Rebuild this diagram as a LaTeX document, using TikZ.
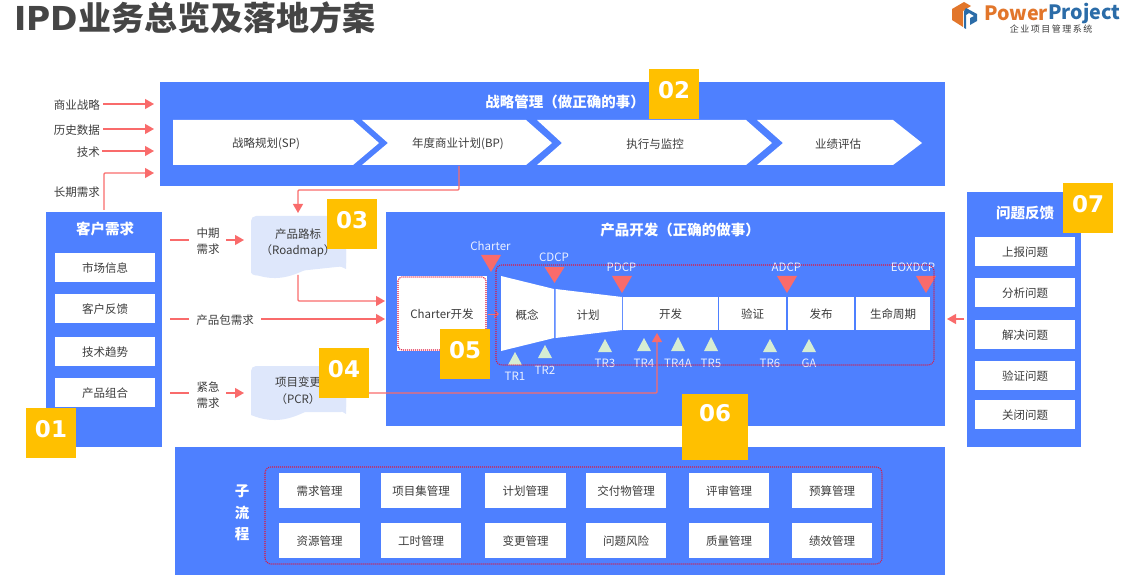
\documentclass[tikz,border=0pt]{standalone}
\usepackage{fontspec}
\setmainfont{Noto Sans CJK SC}
\newfontfamily\numfont{DejaVu Sans}
\usetikzlibrary{arrows.meta}
\definecolor{bluebox}{HTML}{4E80FF}
\definecolor{badge}{HTML}{FFC000}
\definecolor{redline}{HTML}{F96B6B}
\definecolor{docfill}{HTML}{DEE7FB}
\definecolor{greentri}{HTML}{D6EDD3}
\definecolor{txt}{HTML}{3C3C3C}
\definecolor{titletxt}{HTML}{454545}
\definecolor{dotred}{HTML}{E0153C}
\definecolor{logoor}{HTML}{E2762B}
\definecolor{logobl}{HTML}{2B6CA8}
\tikzset{
 panel/.style={fill=bluebox,draw=none,inner sep=0},
 whitebox/.style={fill=white,draw=none,inner sep=0,text=txt,font=\fontsize{11.5}{14}\selectfont,minimum width=#1,text height=11.5pt,text depth=1pt},
 lab/.style={inner sep=0,text=txt,font=\fontsize{11.5}{16.5}\selectfont,align=center,yshift=-0.7pt},
 onblue/.style={inner sep=0,text=white!88!bluebox,font=\fontsize{11.5}{14}\selectfont},
 head/.style={inner sep=0,text=white,font=\fontsize{14.5}{18}\selectfont\bfseries,align=center},
 numbadge/.style={fill=badge,inner sep=0,text=white,font=\fontsize{23}{26}\numfont\bfseries},
 conn/.style={draw=redline,line width=1.3pt,-{Triangle[length=9pt,width=10pt]}},
 plainconn/.style={draw=redline,line width=1.3pt},
 dotbox/.style={draw=dotred,dash pattern=on 1pt off 1pt,line width=1.1pt,rounded corners=6pt},
 redtri/.style={fill=redline},
 greentriangle/.style={fill=greentri},
 chev/.style={fill=white},
}
\newcommand{\bx}[6]{\node[#1,minimum width=#4pt-#3pt,minimum height=#6pt-#5pt,anchor=center] (#2) at ({(#3+#4)/2},{(#5+#6)/2}) {};}
\newcommand{\numb}[1]{\raisebox{8.5pt}{#1}}
\begin{document}
\begin{tikzpicture}[x=1pt,y=-1pt]
\useasboundingbox (0,0) rectangle (1125,588);

% title
\node[anchor=west,inner sep=0,text=titletxt,font=\fontsize{33}{36}\selectfont\bfseries] (title) at (14,18) {{\numfont\bfseries IPD}业务总览及落地方案};

% logo
\fill[logoor] (964,2) -- (971,6) -- (963,11) -- (963,27) -- (952,20) -- (952,9) -- cycle;
\fill[logobl] (966,8) -- (977,14) -- (977,21) -- (970,25) -- (970,18) -- (974,16) -- (969,13) -- (966,15) -- (966,29) -- (964,28) -- (964,11) -- cycle;
\node[anchor=west,inner sep=0,text=logoor,font=\fontsize{19.7}{22}\selectfont\bfseries] (lgA) at (984,13) {Power};
\node[anchor=west,inner sep=0,text=logobl,font=\fontsize{19.7}{22}\selectfont\bfseries] (lgB) at (lgA.east) {Project};
\node[inner sep=0,text=txt,font=\fontsize{9}{10}\selectfont] (lgC) at (1051,29) {企\,业\,项\,目\,管\,理\,系\,统};

% panels
\bx{panel}{strategy}{160}{945}{82}{186}
\bx{panel}{customer}{46}{162}{212}{447}
\bx{panel}{develop}{386}{945}{212}{426}
\bx{panel}{feedback}{967}{1081}{192}{447}
\bx{panel}{subproc}{175}{945}{447}{575}

\node[head] (hstrategy) at (565,102) {战略管理（做正确的事）};
\node[head] (hcustomer) at (105,229) {客户需求};
\node[head] (hdevelop) at (680,230) {产品开发（正确的做事）};
\node[head] (hfeedback) at (1025,213) {问题反馈};
\node[head,font=\fontsize{14.5}{21.5}\selectfont\bfseries] (hsub) at (242,513) {子\\流\\程};

% strategy chevrons
\fill[chev] (173,120) -- (353,120) -- (379,143) -- (353,165) -- (173,165) -- cycle;
\fill[chev] (362,120) -- (526,120) -- (552,143) -- (526,165) -- (362,165) -- (388,143) -- cycle;
\fill[chev] (537,120) -- (746,120) -- (772,143) -- (746,165) -- (537,165) -- (562,143) -- cycle;
\fill[chev] (757,120) -- (893,120) -- (922,143) -- (893,165) -- (757,165) -- (783,143) -- cycle;
\node[lab] (sp) at (266,143) {战略规划(SP)};
\node[lab] (bp) at (458,143) {年度商业计划(BP)};
\node[lab] (exec) at (655,143) {执行与监控};
\node[lab] (eval) at (838,143) {业绩评估};

% left inputs
\node[lab,anchor=east] (in1) at (100,104) {商业战略};
\node[lab,anchor=east] (in2) at (100,129) {历史数据};
\node[lab,anchor=east] (in3) at (100,151) {技术};
\node[lab,anchor=east] (in4) at (100,191) {长期需求};
\coordinate (o1) at (103,104);
\coordinate (o2) at (103,129);
\coordinate (o3) at (102,151);
\coordinate (t1) at (154,104);
\coordinate (t2) at (154,129);
\coordinate (t3) at (154,151);
\coordinate (t4) at (154,173);
\coordinate (c4) at (104,210);
\draw[conn] (o1) -- (t1);
\draw[conn] (o2) -- (t2);
\draw[conn] (o3) -- (t3);
\draw[conn,rounded corners=1pt] (c4) |- (t4);

% customer items
\node[whitebox=100pt,minimum height=29pt] (m1) at (105,267.5) {市场信息};
\node[whitebox=100pt,minimum height=29pt] (m2) at (105,308.5) {客户反馈};
\node[whitebox=100pt,minimum height=29pt] (m3) at (105,351.5) {技术趋势};
\node[whitebox=100pt,minimum height=29pt] (m4) at (105,392.5) {产品组合};

% feedback items
\node[whitebox=100pt,minimum height=29pt] (f1) at (1025,251.5) {上报问题};
\node[whitebox=100pt,minimum height=29pt] (f2) at (1025,292.5) {分析问题};
\node[whitebox=100pt,minimum height=29pt] (f3) at (1025,334.5) {解决问题};
\node[whitebox=100pt,minimum height=29pt] (f4) at (1025,375.5) {验证问题};
\node[whitebox=100pt,minimum height=29pt] (f5) at (1025,414.5) {关闭问题};

% sub process
\foreach \nm/\cx/\cy/\tx in {
 s1/319.5/490.5/需求管理,s2/421/490.5/项目集管理,s3/525.5/490.5/计划管理,s4/626/490.5/交付物管理,s5/729/490.5/评审管理,s6/832/490.5/预算管理,
 s7/319.5/540.5/资源管理,s8/421/540.5/工时管理,s9/525.5/540.5/变更管理,s10/626/540.5/问题风险,s11/729/540.5/质量管理,s12/832/540.5/绩效管理}{
 \node[whitebox=80.5pt,minimum height=35pt] (\nm) at (\cx,\cy) {\tx};
}
\draw[dotbox] (265,467) rectangle (882,564);

% documents
\fill[docfill,rounded corners=5pt] (251,276) -- (251,216) -- (346,216) -- (346,266) -- (346,266) -- cycle;
\fill[docfill] (251,265) -- (251,273) .. controls (275,283) and (292,276) .. (305,270) .. controls (320,263) and (335,263) .. (346,269) -- (346,250) -- (251,250) -- cycle;
\node[lab] (roadmap) at (298,242.5) {产品路标\\（Roadmap）};
\fill[docfill,rounded corners=5pt] (251,412) -- (251,366) -- (346,366) -- (346,412) -- cycle;
\fill[docfill] (251,405) -- (251,415) .. controls (275,425) and (292,418) .. (305,412) .. controls (320,406) and (335,406) .. (346,414) -- (346,395) -- (251,395) -- cycle;
\node[lab] (pcr) at (298,390) {项目变更\\（PCR）};

% middle labels
\coordinate (a1) at (170,240);
\coordinate (a2) at (170,319);
\coordinate (a3) at (170,393);
\coordinate (a1e) at (189,240);
\coordinate (a2e) at (189,319);
\coordinate (a3e) at (189,393);
\coordinate (e1s) at (226,240);
\coordinate (e2s) at (261,319);
\coordinate (e3s) at (226,393);
\node[lab] (need1) at (208,240.5) {中期\\需求};
\node[lab] (need2) at (225,319.5) {产品包需求};
\node[lab] (need3) at (208,394.5) {紧急\\需求};
\coordinate (e1) at (244,240);
\coordinate (e3) at (244,393);
\coordinate (dev2) at (385,319);
\draw[plainconn] (a1) -- (a1e);
\draw[plainconn] (a2) -- (a2e);
\draw[plainconn] (a3) -- (a3e);
\draw[conn] (e1s) -- (e1);
\draw[conn] (e3s) -- (e3);
\draw[conn] (e2s) -- (dev2);

% connectors around roadmap
\coordinate (bpout) at (459,166);
\coordinate (bend) at (459,190);
\coordinate (rmtop) at (298,213);
\draw[conn,rounded corners=1pt] (bpout) -- (bend) -| (rmtop);
\coordinate (rmout) at (298,275);
\coordinate (dev1) at (385,301);
\draw[conn,rounded corners=1pt] (rmout) |- (dev1);

% charter
\node[whitebox=90pt,minimum height=75pt] (charter) at (442,313.5) {Charter开发};
\draw[draw=dotred,dash pattern=on 1pt off 1pt,line width=1.1pt,rounded corners=4pt] (398,277) rectangle (486,350);

% funnel
\fill[white] (501,276) -- (554,289) -- (554,338) -- (501,351) -- cycle;
\fill[white] (555.5,289) -- (622,297) -- (622,330) -- (555.5,338) -- cycle;
\node[lab] (p1) at (527,314) {概念};
\node[lab] (p2) at (588,314) {计划};
\node[whitebox=95pt,minimum height=33pt] (p3) at (670.5,313.5) {开发};
\node[whitebox=67pt,minimum height=33pt] (p4) at (752.5,313.5) {验证};
\node[whitebox=66pt,minimum height=33pt] (p5) at (821,313.5) {发布};
\node[whitebox=74pt,minimum height=33pt] (p6) at (893,313.5) {生命周期};

% charter to funnel
\coordinate (chout) at (488,314);
\coordinate (funin) at (499,314);
\draw[draw=redline,line width=1pt,-{Straight Barb[length=4pt,width=7pt]}] (chout) -- (funin);

% decision points
\foreach \nm/\x/\yt/\yb/\t/\ly in {
 dA/491/255/272/Charter/246, dB/554.5/267/283/CDCP/257, dC/622/276/293/PDCP/267, dD/787/276/293/ADCP/267}{
 \fill[redtri] (\x-10,\yt) -- (\x+10,\yt) -- (\x,\yb) -- cycle;
 \node[onblue] (\nm) at (\x-0.5,\ly) {\t};
}
\fill[redtri] (916,276) -- (936,276) -- (926,293) -- cycle;
\node[onblue] (dE) at (913,267) {EOXDCP};

% technical reviews
\foreach \nm/\x/\yt/\yb/\t/\ly in {
 r1/515/352/365/TR1/376, r2/545/345/358/TR2/370, r3/605/339/352/TR3/363, r4/644/338/351/TR4/363,
 r5/678/337/351/TR4A/363, r6/711/337/351/TR5/363, r7/770/339/352/TR6/363, r8/809/339/352/GA/363}{
 \fill[greentriangle] (\x-7,\yb) -- (\x+7,\yb) -- (\x,\yt) -- cycle;
 \node[onblue] (\nm) at (\x,\ly) {\t};
}

% dotted frame
\draw[dotbox] (496,265) rectangle (934,365);

% pcr to develop
\coordinate (pcrout) at (369,393);
\coordinate (devin) at (657,333);
\draw[conn,rounded corners=1pt] (pcrout) -| (devin);

% feedback arrow
\coordinate (fbout) at (964,319);
\coordinate (fbin) at (947,319);
\draw[conn] (fbout) -- (fbin);

% badges
\node[numbadge,minimum width=50pt,minimum height=50pt] (b01) at (51,433) {\numb{01}};
\node[numbadge,minimum width=50pt,minimum height=50pt] (b02) at (674,94) {\numb{02}};
\node[numbadge,minimum width=50pt,minimum height=50pt] (b03) at (352,224) {\numb{03}};
\node[numbadge,minimum width=50pt,minimum height=50pt] (b04) at (344,373) {\numb{04}};
\node[numbadge,minimum width=50pt,minimum height=50pt] (b05) at (465,354) {\numb{05}};
\node[numbadge,minimum width=66pt,minimum height=66pt] (b06) at (715,427) {\raisebox{28pt}{06}};
\node[numbadge,minimum width=50pt,minimum height=50pt] (b07) at (1088,208) {\numb{07}};
\end{tikzpicture}
\end{document}
